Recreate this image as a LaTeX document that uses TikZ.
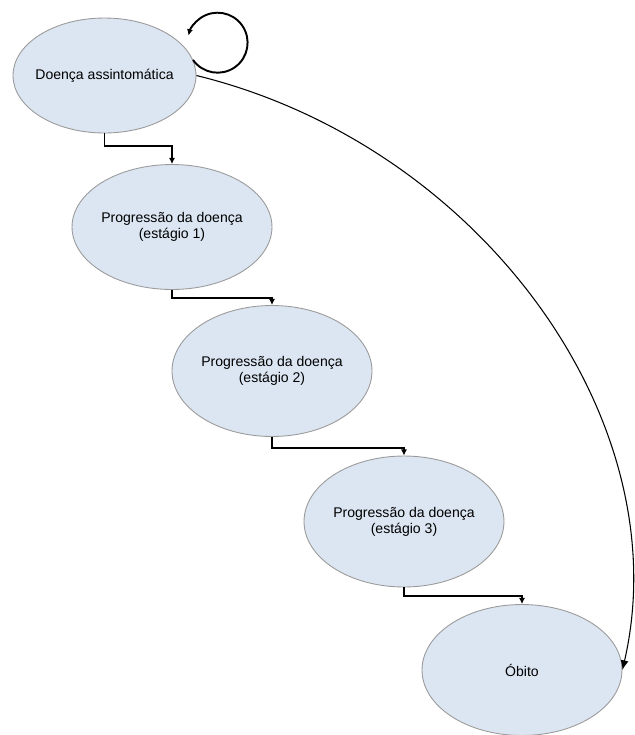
\documentclass[tikz,border=0pt]{standalone}
\usepackage{fontspec}
\setmainfont{Liberation Sans}
\usetikzlibrary{shapes.geometric,arrows.meta}
\definecolor{StateFill}{HTML}{DCE6F2}
\definecolor{StateEdge}{HTML}{9A9A9A}

\begin{document}
\begin{tikzpicture}[x=0.02cm, y=0.02cm,
    state/.style={ellipse, draw=StateEdge, line width=0.5pt, fill=StateFill, minimum width=4cm, minimum height=2.62cm, inner sep=0pt, align=center, font=\fontsize{8}{9.2}\selectfont},
    flow/.style={line width=1.1pt, -{Latex[length=3.5pt,width=3.5pt]}},
    curve/.style={line width=0.6pt, -{Latex[length=5.5pt,width=4.5pt]}}]
    \useasboundingbox (0,0) rectangle (635,-735);

    %States
    \node[state, minimum width=3.66cm, minimum height=2.3cm, inner xsep=-4pt] (asympt) at (104.5,-75.5) {Doença assintomática};
    \node[state, minimum height=2.5cm, inner xsep=-1pt] (stage1) at (172,-227) {Progressão da doença\\(estágio 1)};
    \node[state, inner xsep=-1pt] (stage2) at (272,-371) {Progressão da doença\\(estágio 2)};
    \node[state, inner xsep=-1pt] (stage3) at (404,-521.5) {Progressão da doença\\(estágio 3)};
    \node[state] (death) at (522,-670) {Óbito};

    %Elbow connectors
    \draw[flow] (asympt.south) -- ++(0,-13) -| (stage1.north);
    \draw[flow] (stage1.south) -- ++(0,-8) -| (stage2.north);
    \draw[flow] (stage2.south) -- ++(0,-11) -| (stage3.north);
    \draw[flow] (stage3.south) -- ++(0,-9) -| (death.north);

    %Self loop
    \draw[flow] (asympt.10) arc[start angle=215, end angle=526, radius=30];

    %Long curve
    \draw[curve] (asympt.east) .. controls (480,-145) and (680,-420) .. (death.east);
\end{tikzpicture}
\end{document}
